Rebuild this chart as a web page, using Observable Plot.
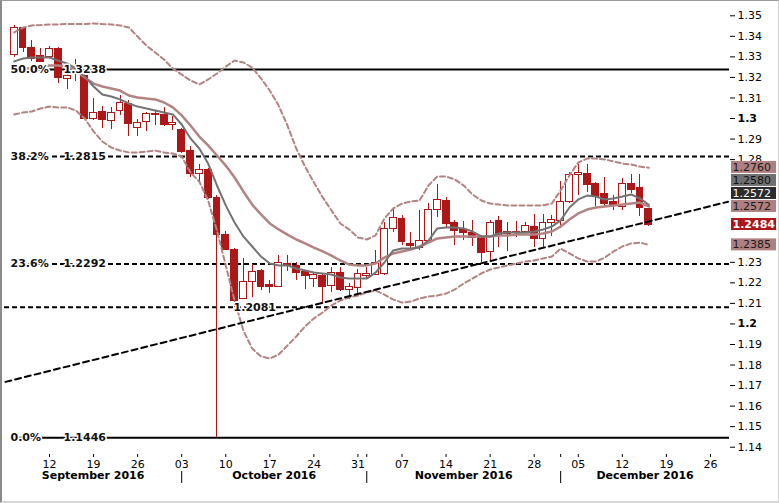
<!DOCTYPE html>
<html><head><meta charset="utf-8">
<script src="https://cdn.jsdelivr.net/npm/d3@7"></script>
<script src="https://cdn.jsdelivr.net/npm/@observablehq/plot@0.6"></script>
<style>
body{margin:0;background:#fff}
#wrap{position:relative;width:779px;height:503px;overflow:hidden}
#border{position:absolute;left:0;top:0;width:779px;height:503px;box-sizing:border-box;border-left:2px solid #8a8a8a;border-top:1px solid #9a9a9a;border-bottom:2px solid #d6d6d6;border-right:1px solid #d6d6d6;pointer-events:none}
</style>
</head><body>
<div id="wrap"><div id="chart"></div><div id="border"></div></div>
<script>
// GBPUSD daily, 6 Sep 2016 .. 15 Dec 2016 (trading-day index 0..72)
const open = [
1.3310,1.3442,1.3344,1.3302,1.3299,1.3339,1.3192,1.3234,1.3207,1.2999,
1.3031,1.2990,1.3039,1.3072,1.2953,1.2981,1.3022,1.3018,1.2968,1.2942,
1.2844,1.2731,1.2747,1.2614,1.2435,1.2361,1.2122,1.2203,1.2260,1.2190,
1.2179,1.2294,1.2282,1.2255,1.2220,1.2232,1.2187,1.2247,1.2163,1.2177,
1.2231,1.2239,1.2241,1.2463,1.2512,1.2390,1.2370,1.2403,1.2556,1.2598,
1.2490,1.2455,1.2445,1.2422,1.2348,1.2499,1.2440,1.2450,1.2450,1.2471,
1.2415,1.2490,1.2503,1.2593,1.2723,1.2731,1.2679,1.2633,1.2593,1.2567,
1.2679,1.2663,1.2560];
const high = [
1.3453,1.3445,1.3380,1.3339,1.3351,1.3347,1.3214,1.3286,1.3214,1.3096,
1.3059,1.3055,1.3112,1.3088,1.2994,1.3031,1.3032,1.3052,1.3010,1.2950,
1.2864,1.2776,1.2755,1.2625,1.2452,1.2367,1.2319,1.2289,1.2265,1.2212,
1.2333,1.2333,1.2299,1.2258,1.2252,1.2244,1.2275,1.2275,1.2197,1.2264,
1.2275,1.2357,1.2495,1.2561,1.2528,1.2445,1.2552,1.2585,1.2679,1.2614,
1.2504,1.2501,1.2504,1.2431,1.2504,1.2523,1.2495,1.2499,1.2495,1.2535,
1.2533,1.2528,1.2693,1.2739,1.2776,1.2776,1.2690,1.2713,1.2625,1.2707,
1.2728,1.2728,1.2564];
const low = [
1.3298,1.3320,1.3278,1.3273,1.3292,1.3169,1.3141,1.3182,1.2995,1.2990,
1.2950,1.2945,1.3015,1.2912,1.2912,1.2938,1.2966,1.2961,1.2942,1.2832,
1.2714,1.2685,1.2608,1.1446,1.2358,1.2081,1.2119,1.2129,1.2163,1.2148,
1.2175,1.2255,1.2211,1.2168,1.2179,1.2095,1.2155,1.2158,1.2119,1.2134,
1.2221,1.2236,1.2236,1.2447,1.2382,1.2358,1.2358,1.2399,1.2520,1.2465,
1.2382,1.2406,1.2377,1.2299,1.2305,1.2372,1.2353,1.2421,1.2445,1.2372,
1.2367,1.2426,1.2479,1.2586,1.2625,1.2641,1.2572,1.2569,1.2550,1.2552,
1.2634,1.2523,1.2472];
const close = [
1.3442,1.3342,1.3292,1.3275,1.3339,1.3197,1.3209,1.3229,1.2999,1.3027,
1.2994,1.3028,1.3075,1.2971,1.2977,1.3020,1.3018,1.2966,1.2978,1.2836,
1.2731,1.2750,1.2614,1.2434,1.2361,1.2114,1.2203,1.2253,1.2182,1.2180,
1.2296,1.2280,1.2247,1.2231,1.2236,1.2182,1.2247,1.2163,1.2182,1.2244,
1.2244,1.2296,1.2463,1.2517,1.2398,1.2377,1.2403,1.2556,1.2601,1.2487,
1.2453,1.2442,1.2416,1.2344,1.2492,1.2427,1.2448,1.2442,1.2479,1.2413,
1.2492,1.2507,1.2593,1.2723,1.2737,1.2674,1.2618,1.2584,1.2572,1.2679,
1.2654,1.2565,1.2484];

// Bollinger bands and moving average
const upperBand = [
1.3419,1.3443,1.3453,1.3455,1.3458,1.3458,1.3460,1.3460,1.3460,1.3463,
1.3460,1.3458,1.3453,1.3443,1.3399,1.3355,1.3321,1.3287,1.3243,1.3214,
1.3185,1.3166,1.3190,1.3219,1.3253,1.3282,1.3273,1.3248,1.3195,1.3136,
1.3063,1.2966,1.2854,1.2766,1.2689,1.2616,1.2552,1.2489,1.2460,1.2421,
1.2411,1.2431,1.2513,1.2562,1.2586,1.2596,1.2601,1.2674,1.2718,1.2718,
1.2703,1.2674,1.2630,1.2601,1.2586,1.2581,1.2577,1.2577,1.2577,1.2577,
1.2577,1.2586,1.2650,1.2723,1.2786,1.2805,1.2805,1.2801,1.2791,1.2781,
1.2776,1.2766,1.2760];
const middleBand = [
1.3224,1.3239,1.3248,1.3253,1.3258,1.3258,1.3253,1.3234,1.3200,1.3170,
1.3156,1.3146,1.3136,1.3112,1.3102,1.3097,1.3093,1.3078,1.3054,1.3015,
1.2966,1.2912,1.2869,1.2820,1.2771,1.2713,1.2645,1.2581,1.2533,1.2489,
1.2460,1.2435,1.2411,1.2392,1.2372,1.2353,1.2333,1.2309,1.2289,1.2285,
1.2285,1.2294,1.2323,1.2343,1.2353,1.2362,1.2377,1.2396,1.2416,1.2421,
1.2426,1.2426,1.2426,1.2426,1.2426,1.2431,1.2431,1.2435,1.2435,1.2435,
1.2440,1.2450,1.2474,1.2508,1.2538,1.2557,1.2567,1.2572,1.2577,1.2581,
1.2586,1.2591,1.2572];
const lowerBand = [
1.3020,1.3029,1.3034,1.3049,1.3058,1.3054,1.3054,1.3039,1.3000,1.2937,
1.2888,1.2859,1.2844,1.2835,1.2835,1.2839,1.2844,1.2835,1.2830,1.2815,
1.2737,1.2693,1.2601,1.2455,1.2285,1.2114,1.1968,1.1880,1.1842,1.1832,
1.1851,1.1895,1.1939,1.1988,1.2027,1.2056,1.2090,1.2114,1.2129,1.2138,
1.2153,1.2163,1.2143,1.2119,1.2104,1.2109,1.2124,1.2134,1.2138,1.2148,
1.2168,1.2197,1.2221,1.2246,1.2265,1.2275,1.2285,1.2294,1.2304,1.2309,
1.2319,1.2328,1.2367,1.2343,1.2319,1.2304,1.2304,1.2323,1.2353,1.2377,
1.2392,1.2396,1.2385];
const fastMA = [
1.3278,1.3292,1.3297,1.3297,1.3297,1.3282,1.3268,1.3243,1.3205,1.3156,
1.3117,1.3107,1.3093,1.3073,1.3058,1.3049,1.3039,1.3029,1.3020,1.2971,
1.2903,1.2854,1.2781,1.2674,1.2577,1.2494,1.2426,1.2377,1.2328,1.2294,
1.2285,1.2285,1.2270,1.2260,1.2250,1.2246,1.2241,1.2226,1.2221,1.2221,
1.2221,1.2250,1.2299,1.2358,1.2367,1.2367,1.2372,1.2406,1.2465,1.2469,
1.2469,1.2465,1.2450,1.2426,1.2426,1.2440,1.2445,1.2445,1.2445,1.2450,
1.2460,1.2474,1.2504,1.2567,1.2606,1.2625,1.2620,1.2606,1.2611,1.2620,
1.2630,1.2611,1.2580];

// Fibonacci levels and support line
const fibPct   = ["50.0%", "38.2%", "23.6%", "0.0%"];
const fibLevel = [1.3238, 1.2815, 1.2292, 1.1446];
const fibSolid = [true, false, false, true];
const lowLevel = [1.2081];
const lowLevelIdx = [25];
const trendIdx = [-1, 81];
const trendPrice = [1.1718, 1.2595];

// Axis ticks (1.24–1.27 sit under the price labels and are not shown)
const yTicks = [1.14,1.15,1.16,1.17,1.18,1.19,1.2,1.21,1.22,1.23,1.28,1.29,1.3,1.31,1.32,1.33,1.34,1.35];
const yTicksBold = [1.2, 1.3];
const xTickIdx = [4,9,14,19,24,29,34,39,44,49,54,59,64,69,74,79];
const xTickLabels = ["12","19","26","03","10","17","24","31","07","14","21","28","05","12","19","26"];
const monthNames = ["September 2016","October 2016","November 2016","December 2016"];
const monthStartIdx = [19, 40, 62];

// Price labels on the right
const rlVals = [1.2760, 1.2580, 1.2572, 1.2572, 1.2484, 1.2385];
const rlBg   = ["#b08080", "#707070", "#2c2c2c", "#b08080", "#ad1616", "#b08080"];
const rlFg   = ["#1a1a1a", "#111111", "#ffffff", "#1a1a1a", "#ffffff", "#1a1a1a"];
const rlBold = [false, false, false, false, true, false];

const RED = "#ad1717", BAND = "#b38382", GRAY = "#737373";
const xDomain = [-1.106, 81.16];
const yDomain = [1.13645, 1.35550];
const pxPrice = (yDomain[1] - yDomain[0]) / 450;

const candles = open.map((o, i) => ({i, o, h: high[i], l: low[i], c: close[i], up: close[i] > open[i]}));
const series = arr => arr.map((v, i) => ({i, v}));
const upperS = series(upperBand), lowerS = series(lowerBand), midS = series(middleBand), fastS = series(fastMA);
const fibs = fibLevel.map((v, k) => ({v, pct: fibPct[k], solid: fibSolid[k]}));
const trend = trendIdx.map((i, k) => ({i, v: trendPrice[k]}));
const lows = lowLevel.map((v, k) => ({v, i: lowLevelIdx[k]}));

// stack right-hand labels so they don't overlap
const pos = rlVals.slice();
for (let k = pos.length - 2; k >= 0; k--) pos[k] = Math.max(rlVals[k], pos[k + 1] + 13 * pxPrice);
const rl = rlVals.map((v, k) => ({v, p: pos[k], bg: rlBg[k], fg: rlFg[k], bold: rlBold[k], t: v.toFixed(4)}));
const halfH = 6 * pxPrice;

const bounds = [xDomain[0], ...monthStartIdx, xDomain[1]];
const months = monthNames.map((n, k) => ({n, x: (bounds[k] + bounds[k + 1]) / 2}));

const chart = Plot.plot({
  width: 779, height: 503,
  marginLeft: 4, marginRight: 50, marginTop: 4, marginBottom: 49,
  x: {domain: xDomain, axis: null},
  y: {domain: yDomain, axis: null},
  style: {fontFamily: "'DejaVu Sans', Verdana, sans-serif", fontSize: "11px", background: "#fff", color: "#000", overflow: "visible"},
  marks: [
    // fibonacci levels (background)
    Plot.ruleY(fibs.filter(d => d.solid), {y: "v", stroke: "#000", strokeWidth: 2}),
    Plot.ruleY(fibs.filter(d => !d.solid), {y: "v", stroke: "#000", strokeWidth: 2, strokeDasharray: "5,3"}),
    Plot.ruleY(lows, {y: "v", stroke: "#000", strokeWidth: 2, strokeDasharray: "5,3"}),
    // candles
    Plot.ruleX(candles, {x: "i", y1: "l", y2: "h", stroke: RED, strokeWidth: 1, shapeRendering: "crispEdges"}),
    Plot.rect(candles, {x1: d => d.i - 0.39, x2: d => d.i + 0.39, y1: "o", y2: "c", fill: d => d.up ? "#fff" : RED, stroke: RED, strokeWidth: 1, shapeRendering: "crispEdges"}),
    // indicators
    Plot.line(upperS, {x: "i", y: "v", stroke: BAND, strokeWidth: 2, strokeDasharray: "5,3"}),
    Plot.line(lowerS, {x: "i", y: "v", stroke: BAND, strokeWidth: 2, strokeDasharray: "5,3"}),
    Plot.line(midS, {x: "i", y: "v", stroke: BAND, strokeWidth: 2.5}),
    Plot.line(fastS, {x: "i", y: "v", stroke: GRAY, strokeWidth: 2}),
    // trend line
    Plot.line(trend, {x: "i", y: "v", stroke: "#000", strokeWidth: 2, strokeDasharray: "6,4"}),
    // fib labels (white background at the left edge, then text with halo)
    Plot.rect(fibs, {y1: d => d.v - halfH, y2: d => d.v + halfH, fill: "#fff", insetRight: 718}),
    Plot.text(fibs, {y: "v", text: "pct", frameAnchor: "left", textAnchor: "start", dx: 6, fontWeight: "bold", fill: "#111", stroke: "#fff", strokeWidth: 3}),
    Plot.text(fibs, {y: "v", text: d => d.v.toFixed(4), frameAnchor: "left", textAnchor: "start", dx: 59, fontWeight: "bold", fill: "#111", stroke: "#fff", strokeWidth: 3}),
    Plot.text(lows, {x: "i", y: "v", text: d => d.v.toFixed(4), textAnchor: "start", dx: -1, fontWeight: "bold", fill: "#111", stroke: "#fff", strokeWidth: 3}),
    // axes
    Plot.axisY({anchor: "right", ticks: yTicks.filter(t => !yTicksBold.includes(t)), tickSize: 5, tickPadding: 3, fontSize: 11}),
    Plot.axisY({anchor: "right", ticks: yTicksBold, tickSize: 5, tickPadding: 3, fontSize: 11, fontWeight: "bold", tickFormat: d => String(d)}),
    Plot.axisX({ticks: xTickIdx, tickFormat: d => xTickLabels[xTickIdx.indexOf(d)], tickSize: 3, tickPadding: 3, fontSize: 11}),
    Plot.axisX({ticks: monthStartIdx.slice(1), tickFormat: () => "", tickSize: 3}),
    Plot.tickX(monthStartIdx, {x: d => d, stroke: "#000", insetTop: 467, insetBottom: -29}),
    Plot.text(months, {x: "x", text: "n", frameAnchor: "bottom", dy: 24.5, fontWeight: "bold", fontSize: 11}),
    // right-hand price labels
    Plot.rect(rl, {y1: d => d.p - halfH, y2: d => d.p + halfH, fill: "bg", insetLeft: 727, insetRight: -47}),
    Plot.text(rl.filter(d => !d.bold), {y: "p", text: "t", fill: "fg", frameAnchor: "right", textAnchor: "start", dx: 3, fontSize: 11}),
    Plot.text(rl.filter(d => d.bold), {y: "p", text: "t", fill: "fg", frameAnchor: "right", textAnchor: "start", dx: 3, fontSize: 11, fontWeight: "bold"})
  ]
});
document.getElementById("chart").appendChild(chart);
</script>
</body></html>
